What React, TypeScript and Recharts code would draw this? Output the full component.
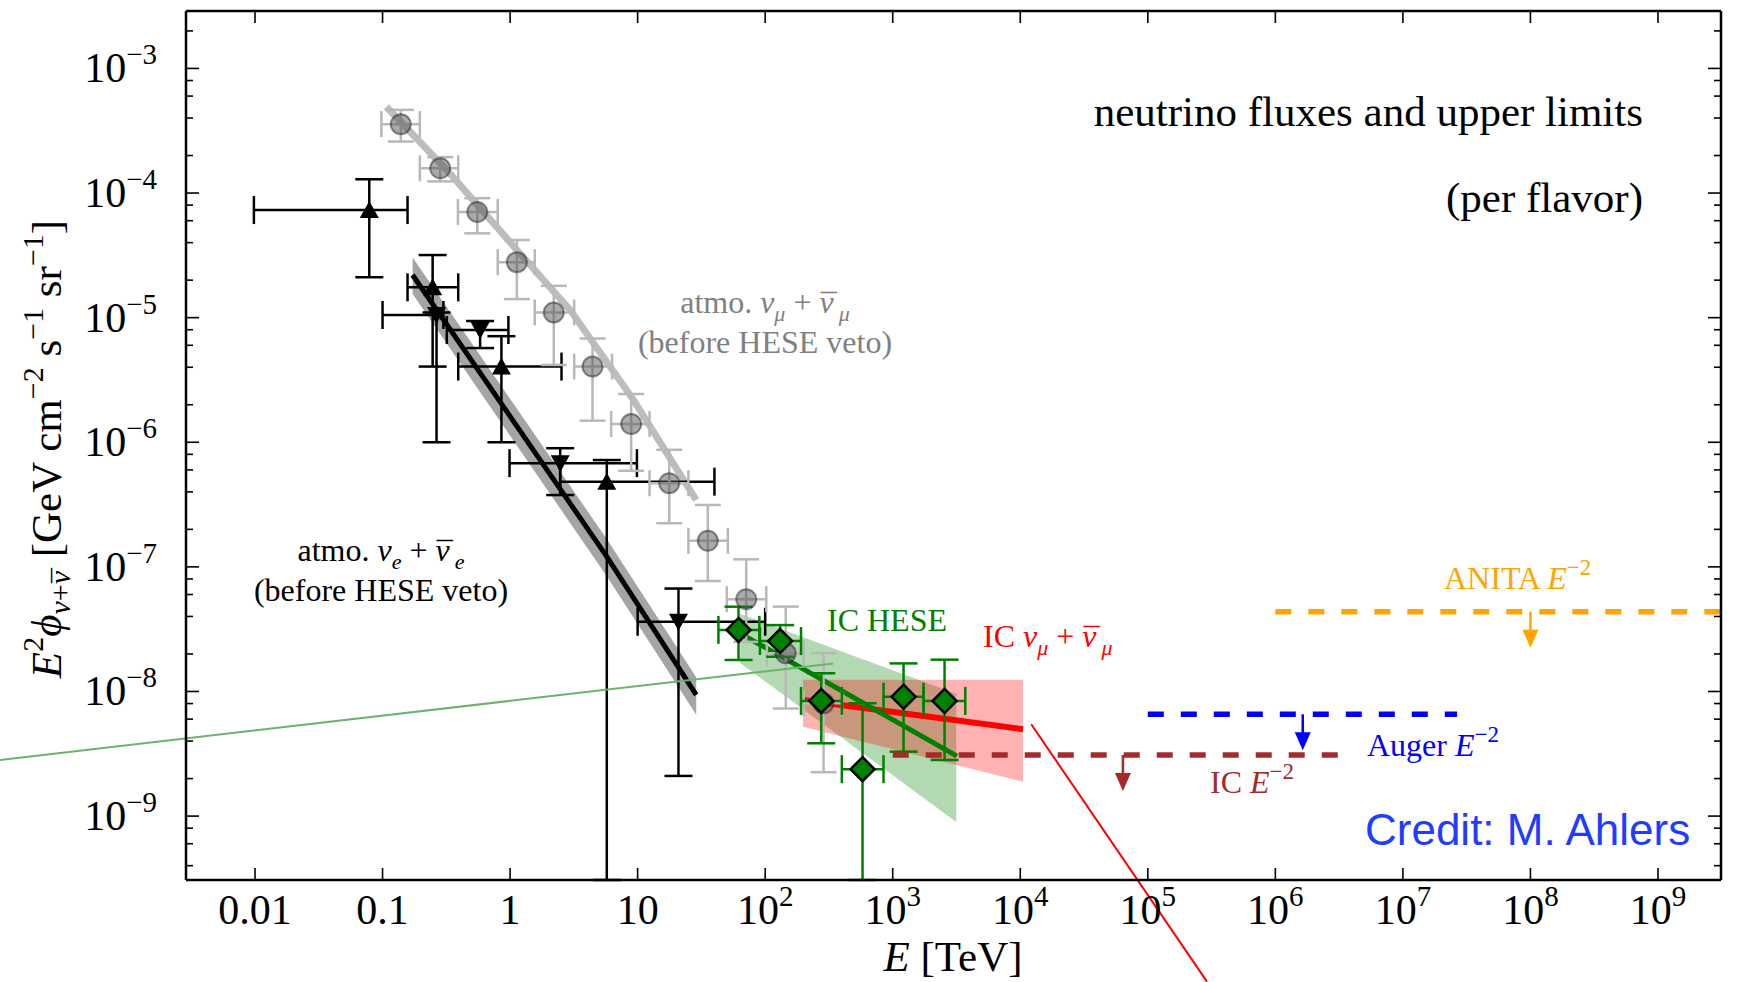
import React from 'react';
import { ComposedChart, XAxis, YAxis, Line, Area, Scatter, ErrorBar, ReferenceLine } from 'recharts';

const SERIF = '"Liberation Serif", "DejaVu Serif", serif';
const SANS = '"Liberation Sans", Arial, sans-serif';

const WIDTH = 1739;
const HEIGHT = 982;

const X_DOMAIN = [0.002877, 3.12e9];
const Y_DOMAIN = [3.07e-10, 2.89e-3];
const Y_FLOOR = 3.07e-10; // error bars running off the bottom of the axes

const X_TICKS = [1e-2, 1e-1, 1, 1e1, 1e2, 1e3, 1e4, 1e5, 1e6, 1e7, 1e8, 1e9];
const X_TICK_LABELS = ['0.01', '0.1', '1', '10', '10^2', '10^3', '10^4', '10^5', '10^6', '10^7', '10^8', '10^9'];
const Y_TICKS = [
  4e-10, 6e-10, 8e-10, 1e-9, 2e-9, 4e-9, 6e-9, 8e-9, 1e-8, 2e-8, 4e-8, 6e-8, 8e-8,
  1e-7, 2e-7, 4e-7, 6e-7, 8e-7, 1e-6, 2e-6, 4e-6, 6e-6, 8e-6, 1e-5, 2e-5, 4e-5, 6e-5, 8e-5,
  1e-4, 2e-4, 4e-4, 6e-4, 8e-4, 1e-3, 2e-3,
];
const Y_MAJOR = [1e-9, 1e-8, 1e-7, 1e-6, 1e-5, 1e-4, 1e-3];
const Y_MAJOR_LABELS = ['10^\u22129', '10^\u22128', '10^\u22127', '10^\u22126', '10^\u22125', '10^\u22124', '10^\u22123'];

// atmo. nu_mu + nubar_mu (grey circles)
const muE = [0.139, 0.283, 0.553, 1.13, 2.2, 4.43, 8.9, 17.7, 35.5, 71, 145, 287];
const muF = [3.57e-4, 1.58e-4, 7.05e-5, 2.79e-5, 1.1e-5, 4.05e-6, 1.4e-6, 4.69e-7, 1.62e-7, 5.5e-8, 2.03e-8, 8.04e-9];
const muElo = [0.098, 0.196, 0.39, 0.8, 1.56, 3.18, 6.2, 12.4, 25, 50, 103, 200];
const muEhi = [0.196, 0.392, 0.8, 1.56, 3.18, 6.3, 12.4, 25, 51, 102, 200, 400];
const muFlo = [2.59e-4, 1.24e-4, 4.75e-5, 1.41e-5, 4.17e-6, 1.49e-6, 5.9e-7, 2.24e-7, 7.7e-8, 2.5e-8, 7.3e-9, 2.25e-9];
const muFhi = [4.65e-4, 1.94e-4, 9.1e-5, 4.2e-5, 1.8e-5, 6.8e-6, 2.44e-6, 8.7e-7, 3.14e-7, 1.15e-7, 4.8e-8, 2.03e-8];

// atmo. nu_e + nubar_e, up triangles
const eUpE = [0.0787, 0.247, 0.855, 5.73];
const eUpF = [7.3e-5, 1.75e-5, 4.05e-6, 4.83e-7];
const eUpElo = [0.0098, 0.157, 0.392, 2.47];
const eUpEhi = [0.157, 0.392, 2.53, 40];
const eUpFlo = [2.11e-5, 4.05e-6, 1e-6, Y_FLOOR];
const eUpFhi = [1.29e-4, 3.18e-5, 7.1e-6, 7.2e-7];

// atmo. nu_e + nubar_e, down triangles
const eDnE = [0.265, 0.582, 2.47, 20.9];
const eDnF = [1.05e-5, 7.96e-6, 6.8e-7, 3.63e-8];
const eDnElo = [0.1, 0.319, 0.99, 10];
const eDnEhi = [0.3, 0.97, 9.87, 100];
const eDnFlo = [1e-6, 5.7e-6, 3.77e-7, 2.1e-9];
const eDnFhi = [1.1e-5, 9.4e-6, 8.96e-7, 6.7e-8];

// IC HESE (green diamonds)
const heseE = [61.8, 131, 275, 580, 1216, 2549];
const heseF = [3.12e-8, 2.54e-8, 8.4e-9, 2.38e-9, 9.08e-9, 8.4e-9];
const heseElo = [43, 91, 191, 399, 847, 1746];
const heseEhi = [90, 191, 399, 847, 1746, 3707];
const heseFlo = [1.79e-8, 1.9e-8, 3.84e-9, Y_FLOOR, 3.29e-9, 2.82e-9];
const heseFhi = [4.79e-8, 3.41e-8, 1.4e-8, 8.05e-9, 1.68e-8, 1.8e-8];

// fits
const muFitE = [0.107, 0.319, 1.13, 2.96, 9.27, 28.8];
const muFitF = [4.93e-4, 1.53e-4, 3.49e-5, 1.15e-5, 2.19e-6, 3.44e-7];
const eFitE = [0.172, 5.73, 28.8];
const eFitF = [2.2e-5, 1.21e-7, 9.4e-9];
const eBandLo = [1.55e-5, 8.4e-8, 6.5e-9];
const eBandHi = [3.04e-5, 1.67e-7, 1.3e-8];
const heseFitE = [63.7, 3190];
const heseFitF = [2.93e-8, 3.03e-9];
const heseBandE = [63.7, 3150];
const heseBandLo = [1.69e-8, 8.97e-10];
const heseBandHi = [4.2e-8, 9.6e-9];
const numuE = [198, 10500];
const numuF = [8.55e-9, 4.98e-9];
const numuBandLo = [5.22e-9, 1.89e-9];
const numuBandHi = [1.24e-8, 1.24e-8];
const numuSteepE = [12190, 2.91e5];
const numuSteepF = [5.46e-9, 4.69e-11];
const greenThinE = [1e-4, 342];
const greenThinF = [2.82e-9, 1.68e-8];

// E^-2 upper limits
const anitaE = [1e6, 1e10];
const anitaF = 4.37e-8;
const anitaArrowE = 1e8;
const augerE = [1e5, 2.66e7];
const augerF = 6.56e-9;
const augerArrowE = 1.64e6;
const icE = [1e3, 3.19e6];
const icF = 3.09e-9;
const icArrowE = 6.38e4;

const points = (E: number[], F: number[], Elo: number[], Ehi: number[], Flo: number[], Fhi: number[]) =>
  E.map((e, i) => ({ E: e, F: F[i], ex: [e - Elo[i], Ehi[i] - e], ey: [F[i] - Flo[i], Fhi[i] - F[i]] }));
const curve = (E: number[], F: number[]) => E.map((e, i) => ({ E: e, F: F[i] }));
const band = (E: number[], lo: number[], hi: number[]) => E.map((e, i) => ({ E: e, band: [lo[i], hi[i]] }));

const muData = points(muE, muF, muElo, muEhi, muFlo, muFhi);
const eUpData = points(eUpE, eUpF, eUpElo, eUpEhi, eUpFlo, eUpFhi);
const eDnData = points(eDnE, eDnF, eDnElo, eDnEhi, eDnFlo, eDnFhi);
const heseData = points(heseE, heseF, heseElo, heseEhi, heseFlo, heseFhi);

const AXIS = { stroke: '#000', strokeWidth: 2.5 };

const isMajor = (v: number) => Math.abs(Math.log10(v) - Math.round(Math.log10(v))) < 1e-6;

function MathText({ text, supSize, supDy }: { text: string; supSize: number; supDy: number }) {
  const [base, exp] = text.split('^');
  return (
    <>
      {base}
      {exp !== undefined && (
        <tspan dy={-supDy} fontSize={supSize}>
          {exp}
        </tspan>
      )}
    </>
  );
}

function BottomTick(p: any) {
  const { x, y, payload } = p;
  const i = X_TICKS.findIndex((t) => Math.abs(t - payload.value) / t < 1e-6);
  return (
    <g>
      <line x1={x} x2={x} y1={y} y2={y - 12} stroke="#000" strokeWidth={1.6} />
      <text x={x} y={y + 44} textAnchor="middle" fontSize={42} fontFamily={SERIF} fill="#000">
        <MathText text={X_TICK_LABELS[i] ?? ''} supSize={29} supDy={18} />
      </text>
    </g>
  );
}

function TopTick(p: any) {
  const { x, y } = p;
  return <line x1={x} x2={x} y1={y} y2={y + 12} stroke="#000" strokeWidth={1.6} />;
}

function LeftTick(p: any) {
  const { x, y, payload } = p;
  const major = isMajor(payload.value);
  const i = Y_MAJOR.findIndex((t) => Math.abs(t - payload.value) / t < 1e-6);
  return (
    <g>
      <line x1={x} x2={x + (major ? 13 : 7)} y1={y} y2={y} stroke="#000" strokeWidth={1.6} />
      {major && i >= 0 && (
        <text x={x - 29} y={y + 14} textAnchor="end" fontSize={42} fontFamily={SERIF} fill="#000">
          <MathText text={Y_MAJOR_LABELS[i]} supSize={29} supDy={18} />
        </text>
      )}
    </g>
  );
}

function RightTick(p: any) {
  const { x, y, payload } = p;
  const major = isMajor(payload.value);
  return <line x1={x} x2={x - (major ? 13 : 7)} y1={y} y2={y} stroke="#000" strokeWidth={1.6} />;
}

const GreyCircle = (p: any) => (
  <circle cx={p.cx} cy={p.cy} r={10} fill="#555" fillOpacity={0.5} stroke="#222" strokeOpacity={0.5} strokeWidth={2} />
);
const TriUp = (p: any) => (
  <path d={`M${p.cx},${p.cy - 9} L${p.cx + 9.5},${p.cy + 8} L${p.cx - 9.5},${p.cy + 8} Z`} fill="#000" />
);
const TriDown = (p: any) => (
  <path d={`M${p.cx},${p.cy + 9} L${p.cx + 9.5},${p.cy - 8} L${p.cx - 9.5},${p.cy - 8} Z`} fill="#000" />
);
const Diamond = (p: any) => (
  <path
    d={`M${p.cx},${p.cy - 12} L${p.cx + 12},${p.cy} L${p.cx},${p.cy + 12} L${p.cx - 12},${p.cy} Z`}
    fill="#008000"
    stroke="#000"
    strokeWidth={2.5}
  />
);
const makeArrow = (color: string) => (p: any) => (
  <g>
    <line x1={p.cx} x2={p.cx} y1={p.cy} y2={p.cy + 22} stroke={color} strokeWidth={2.5} />
    <path d={`M${p.cx - 8},${p.cy + 18} L${p.cx + 8},${p.cy + 18} L${p.cx},${p.cy + 36} Z`} fill={color} />
  </g>
);

// nubar: a macron pulled back and down over the nu
function NuBar({ size }: { size: number }) {
  return (
    <>
      <tspan fontStyle="italic">ν</tspan>
      <tspan dx={-0.4 * size} dy={0.1 * size}>¯</tspan>
    </>
  );
}

// "nu_x + nubar_x"
function NuPair({ sub, size, subSize, subDy }: { sub: string; size: number; subSize: number; subDy: number }) {
  return (
    <>
      <tspan fontStyle="italic">ν</tspan>
      <tspan dy={subDy} fontSize={subSize} fontStyle="italic">{sub}</tspan>
      <tspan dy={-subDy}>{' + '}</tspan>
      <NuBar size={size} />
      <tspan dx={0.06 * size} dy={subDy - 0.1 * size} fontSize={subSize} fontStyle="italic">{sub}</tspan>
    </>
  );
}

function Annotations() {
  const pre = { whiteSpace: 'pre' as const };
  return (
    <svg width={WIDTH} height={HEIGHT} style={{ position: 'absolute', left: 0, top: 0, pointerEvents: 'none' }} fontFamily={SERIF}>
      <text x={1643} y={126} textAnchor="end" fontSize={43} fill="#000">neutrino fluxes and upper limits</text>
      <text x={1643} y={212} textAnchor="end" fontSize={43} fill="#000">(per flavor)</text>

      <text x={765} y={313} textAnchor="middle" fontSize={32} fill="#808080" style={pre}>
        {'atmo. '}
        <NuPair sub="μ" size={32} subSize={22} subDy={8} />
      </text>
      <text x={765} y={353} textAnchor="middle" fontSize={32} fill="#808080">(before HESE veto)</text>

      <text x={381} y={561} textAnchor="middle" fontSize={32} fill="#000" style={pre}>
        {'atmo. '}
        <NuPair sub="e" size={32} subSize={22} subDy={8} />
      </text>
      <text x={381} y={601} textAnchor="middle" fontSize={32} fill="#000">(before HESE veto)</text>

      <text x={827} y={631} fontSize={32} fill="#008000">IC HESE</text>

      <text x={983} y={647} fontSize={32} fill="#ff0000" style={pre}>
        {'IC '}
        <NuPair sub="μ" size={32} subSize={22} subDy={8} />
      </text>

      <text x={1444} y={589} fontSize={32} fill="#ffa500" style={pre}>
        {'ANITA '}
        <tspan fontStyle="italic">E</tspan>
        <tspan dy={-14} fontSize={23}>−2</tspan>
      </text>
      <text x={1367} y={756} fontSize={32} fill="#0000ff" style={pre}>
        {'Auger '}
        <tspan fontStyle="italic">E</tspan>
        <tspan dy={-14} fontSize={23}>−2</tspan>
      </text>
      <text x={1210} y={793} fontSize={32} fill="#a52a2a" style={pre}>
        {'IC '}
        <tspan fontStyle="italic">E</tspan>
        <tspan dy={-14} fontSize={23}>−2</tspan>
      </text>

      <text x={1365} y={845} fontSize={44} fill="#1f3cff" fontFamily={SANS}>Credit: M. Ahlers</text>

      <text x={953} y={971} textAnchor="middle" fontSize={43} fill="#000" style={pre}>
        <tspan fontStyle="italic">E</tspan>
        {' [TeV]'}
      </text>

      <text x={61} y={449} transform="rotate(-90 61 449)" textAnchor="middle" fontSize={43} fill="#000" style={pre}>
        <tspan fontStyle="italic">E</tspan>
        <tspan dy={-18} fontSize={30}>2</tspan>
        <tspan dy={18} fontStyle="italic">ϕ</tspan>
        <tspan dy={9} fontSize={30} fontStyle="italic">ν</tspan>
        <tspan fontSize={30}>+</tspan>
        <tspan fontSize={30} fontStyle="italic">ν</tspan>
        <tspan fontSize={30} dx={-12} dy={3}>¯</tspan>
        <tspan dy={-12}>{' [GeV cm'}</tspan>
        <tspan dy={-18} fontSize={30}>−2</tspan>
        <tspan dy={18}>{' s'}</tspan>
        <tspan dy={-18} fontSize={30}>−1</tspan>
        <tspan dy={18}>{' sr'}</tspan>
        <tspan dy={-18} fontSize={30}>−1</tspan>
        <tspan dy={18}>]</tspan>
      </text>
    </svg>
  );
}

export default function App() {
  return (
    <div style={{ position: 'relative', width: WIDTH, height: HEIGHT, background: '#fff', overflow: 'hidden' }}>
      <style>{'body{margin:0;overflow:hidden;}'}</style>
      <ComposedChart width={WIDTH} height={HEIGHT} margin={{ top: 0, right: 0, bottom: 0, left: 0 }}>
        <XAxis
          dataKey="E"
          type="number"
          scale="log"
          domain={X_DOMAIN}
          allowDataOverflow
          ticks={X_TICKS}
          interval={0}
          tickSize={0}
          tickMargin={0}
          tickLine={false}
          axisLine={AXIS}
          tick={(p: any) => <BottomTick {...p} />}
          height={102}
        />
        <XAxis
          xAxisId="top"
          orientation="top"
          dataKey="E"
          type="number"
          scale="log"
          domain={X_DOMAIN}
          allowDataOverflow
          ticks={X_TICKS}
          interval={0}
          tickSize={0}
          tickMargin={0}
          tickLine={false}
          axisLine={AXIS}
          tick={(p: any) => <TopTick {...p} />}
          height={11}
        />
        <YAxis
          type="number"
          scale="log"
          domain={Y_DOMAIN}
          allowDataOverflow
          ticks={Y_TICKS}
          interval={0}
          tickSize={0}
          tickMargin={0}
          tickLine={false}
          axisLine={AXIS}
          tick={(p: any) => <LeftTick {...p} />}
          width={186}
        />
        <YAxis
          yAxisId="right"
          orientation="right"
          type="number"
          scale="log"
          domain={Y_DOMAIN}
          allowDataOverflow
          ticks={Y_TICKS}
          interval={0}
          tickSize={0}
          tickMargin={0}
          tickLine={false}
          axisLine={AXIS}
          tick={(p: any) => <RightTick {...p} />}
          width={18}
        />

        <Area data={band(eFitE, eBandLo, eBandHi)} dataKey="band" type="linear" stroke="none" fill="#a5a5a5" fillOpacity={1} isAnimationActive={false} />
        <Line data={curve(eFitE, eFitF)} dataKey="F" type="linear" stroke="#000" strokeWidth={5} dot={false} activeDot={false} isAnimationActive={false} />
        <Line data={curve(muFitE, muFitF)} dataKey="F" type="linear" stroke="#bdbdbd" strokeWidth={7} dot={false} activeDot={false} isAnimationActive={false} />

        <Area data={band(heseBandE, heseBandLo, heseBandHi)} dataKey="band" type="linear" stroke="none" fill="#008000" fillOpacity={0.3} isAnimationActive={false} />
        <Area data={band(numuE, numuBandLo, numuBandHi)} dataKey="band" type="linear" stroke="none" fill="#ff0000" fillOpacity={0.3} isAnimationActive={false} />
        <Line data={curve(numuE, numuF)} dataKey="F" type="linear" stroke="#ff0000" strokeWidth={6} dot={false} activeDot={false} isAnimationActive={false} />
        <Line data={curve(heseFitE, heseFitF)} dataKey="F" type="linear" stroke="#008000" strokeWidth={5} dot={false} activeDot={false} isAnimationActive={false} />

        <Scatter data={eUpData} dataKey="F" shape={TriUp} isAnimationActive={false}>
          <ErrorBar dataKey="ex" direction="x" width={14} stroke="#000" strokeWidth={2.5} isAnimationActive={false} />
          <ErrorBar dataKey="ey" direction="y" width={14} stroke="#000" strokeWidth={2.5} isAnimationActive={false} />
        </Scatter>
        <Scatter data={eDnData} dataKey="F" shape={TriDown} isAnimationActive={false}>
          <ErrorBar dataKey="ex" direction="x" width={14} stroke="#000" strokeWidth={2.5} isAnimationActive={false} />
          <ErrorBar dataKey="ey" direction="y" width={14} stroke="#000" strokeWidth={2.5} isAnimationActive={false} />
        </Scatter>
        <Scatter data={muData} dataKey="F" shape={GreyCircle} isAnimationActive={false}>
          <ErrorBar dataKey="ex" direction="x" width={13} stroke="#b8b8b8" strokeWidth={2.5} isAnimationActive={false} />
          <ErrorBar dataKey="ey" direction="y" width={13} stroke="#b8b8b8" strokeWidth={2.5} isAnimationActive={false} />
        </Scatter>
        <Scatter data={heseData} dataKey="F" shape={Diamond} isAnimationActive={false}>
          <ErrorBar dataKey="ex" direction="x" width={14} stroke="#008000" strokeWidth={2.5} isAnimationActive={false} />
          <ErrorBar dataKey="ey" direction="y" width={14} stroke="#008000" strokeWidth={2.5} isAnimationActive={false} />
        </Scatter>

        <Line data={curve(icE, [icF, icF])} dataKey="F" type="linear" stroke="#a52a2a" strokeWidth={5.5} strokeDasharray="16 17" dot={false} activeDot={false} isAnimationActive={false} />
        <Line data={curve(augerE, [augerF, augerF])} dataKey="F" type="linear" stroke="#0000ff" strokeWidth={5.5} strokeDasharray="16 17" dot={false} activeDot={false} isAnimationActive={false} />
        <Line data={curve(anitaE, [anitaF, anitaF])} dataKey="F" type="linear" stroke="#ffa500" strokeWidth={5.5} strokeDasharray="16 17" dot={false} activeDot={false} isAnimationActive={false} />
        <Scatter data={[{ E: icArrowE, F: icF }]} dataKey="F" shape={makeArrow('#a52a2a')} isAnimationActive={false} />
        <Scatter data={[{ E: augerArrowE, F: augerF }]} dataKey="F" shape={makeArrow('#0000ff')} isAnimationActive={false} />
        <Scatter data={[{ E: anitaArrowE, F: anitaF }]} dataKey="F" shape={makeArrow('#ffa500')} isAnimationActive={false} />

        <ReferenceLine
          segment={[{ x: greenThinE[0], y: greenThinF[0] }, { x: greenThinE[1], y: greenThinF[1] }]}
          stroke="#6db36d"
          strokeWidth={2}
          ifOverflow="visible"
        />
        <ReferenceLine
          segment={[{ x: numuSteepE[0], y: numuSteepF[0] }, { x: numuSteepE[1], y: numuSteepF[1] }]}
          stroke="#ff0000"
          strokeWidth={2}
          ifOverflow="visible"
        />
      </ComposedChart>
      <Annotations />
    </div>
  );
}
